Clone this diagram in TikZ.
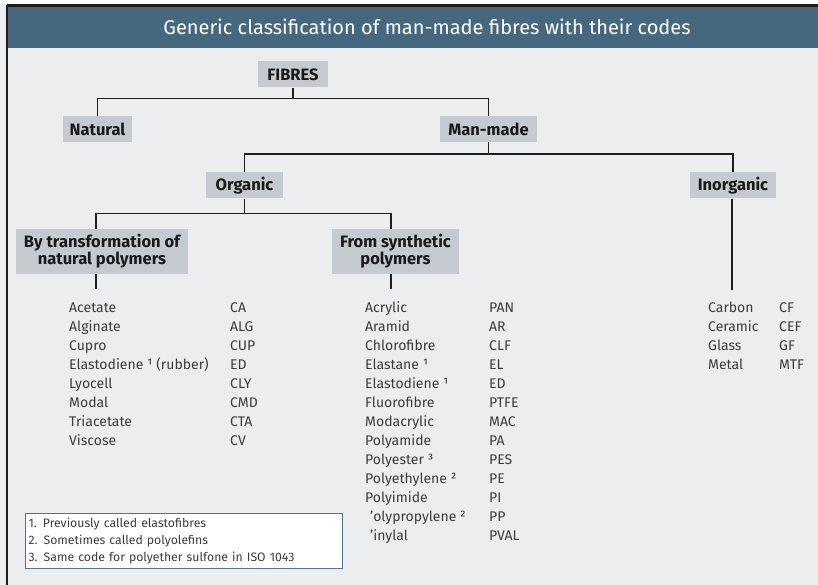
\documentclass[tikz,border=0pt]{standalone}
\usepackage{fontspec}
\setmainfont{Fira Sans}
\usepackage{xcolor}
\definecolor{pagebg}{HTML}{ECEDEF}
\definecolor{headbar}{HTML}{46687F}
\definecolor{boxgray}{HTML}{C4CAD0}
\definecolor{linedark}{HTML}{1E1E1E}
\definecolor{listtext}{HTML}{3C3C3C}
\definecolor{noteline}{HTML}{52738D}
\tikzset{
  class box/.style={
    fill=boxgray,
    text=black!90,
    font=\bfseries\fontsize{16.5}{16.5}\selectfont,
    inner sep=0pt,
    minimum width={#1pt},
    minimum height={26pt},
  },
  two line/.style={
    minimum height={45pt},
    align=center,
    font=\bfseries\fontsize{16.5}{17}\selectfont,
  },
  code list/.style={
    anchor=north west,
    inner sep=0pt,
    text=listtext,
    font=\fontsize{14}{19}\selectfont,
  },
  tree line/.style={
    draw=linedark,
    line width=1.5pt,
  }
}

\begin{document}
\begin{tikzpicture}[x=1pt,y=-1pt]
        \useasboundingbox (0,0) rectangle (818,585);
        \fill[pagebg] (0,0) rectangle (818,585);
        \fill[white] (0,0) rectangle (818,4);
        \fill[headbar] (7,7) rectangle (818,48);
        \draw[linedark, line width=2.5pt] (7,5.5) -- (818,5.5);
        \draw[linedark, line width=1.5pt] (7,5) -- (7,585);
        \node[text=white, font=\fontsize{20}{22}\selectfont] (title) at (427,27) {Generic classification of man-made fibres with their codes};

        \node [class box=70] (fibres) at (293,74.5) {FIBRES};
        \node [class box=69] (natural) at (97.5,129) {Natural};
        \node [class box=97] (manmade) at (488.5,129) {Man-made};
        \node [class box=77] (organic) at (244.5,185.5) {Organic};
        \node [class box=86] (inorganic) at (733,185.5) {Inorganic};
        \node [class box=172, two line] (trans) at (102,251.5) {By transformation of\\natural polymers};
        \node [class box=127, two line] (synth) at (395.5,251.5) {From synthetic\\polymers};

        \draw [tree line] (fibres) -- ([yshift=-11pt]fibres.south);
        \draw [tree line] (natural.north) |- ([yshift=-11pt]fibres.south) -| (manmade.north);
        \draw [tree line] (manmade) -- ([yshift=-12pt]manmade.south);
        \draw [tree line] (organic.north) |- ([yshift=-12pt]manmade.south) -| (inorganic.north);
        \draw [tree line] (organic) -- ([yshift=-15pt]organic.south);
        \draw [tree line] ([xshift=-6pt]trans.north) |- ([yshift=-15pt]organic.south) -| ([xshift=-4.5pt]synth.north);
        \draw [tree line] ([xshift=-6pt]trans.south) -- ++(0,15);
        \draw [tree line] ([xshift=-4.5pt]synth.south) -- ++(0,15);
        \draw [tree line] ([xshift=-1pt]inorganic.south) -- ++(0,91);

        \node [code list] (translist) at (69,299) {%
          \begin{tabular}{@{}p{161pt}@{}l@{}}
            Acetate & CA\\
            Alginate & ALG\\
            Cupro & CUP\\
            Elastodiene ¹ (rubber) & ED\\
            Lyocell & CLY\\
            Modal & CMD\\
            Triacetate & CTA\\
            Viscose & CV
          \end{tabular}};
        \node [code list] (synthlist) at (365,299) {%
          \begin{tabular}{@{}p{124pt}@{}l@{}}
            Acrylic & PAN\\
            Aramid & AR\\
            Chlorofibre & CLF\\
            Elastane ¹ & EL\\
            Elastodiene ¹ & ED\\
            Fluorofibre & PTFE\\
            Modacrylic & MAC\\
            Polyamide & PA\\
            Polyester ³ & PES\\
            Polyethylene ² & PE\\
            Polyimide & PI\\
            \hspace{5pt}'olypropylene ² & PP\\
            \hspace{5pt}'inylal & PVAL
          \end{tabular}};
        \node [code list] (inorglist) at (708,299) {%
          \begin{tabular}{@{}p{71pt}@{}l@{}}
            Carbon & CF\\
            Ceramic & CEF\\
            Glass & GF\\
            Metal & MTF
          \end{tabular}};

        \node [draw=noteline, fill=white, line width=1pt, anchor=north west,
          minimum width=317pt, minimum height=55pt, text width=311pt, inner xsep=2pt,
          align=left, text=listtext, font=\fontsize{12.25}{17}\selectfont] (notes) at (25,513)
          {1. Previously called elastofibres\\2. Sometimes called polyolefins\\3. Same code for polyether sulfone in ISO 1043};
\end{tikzpicture}
\end{document}
